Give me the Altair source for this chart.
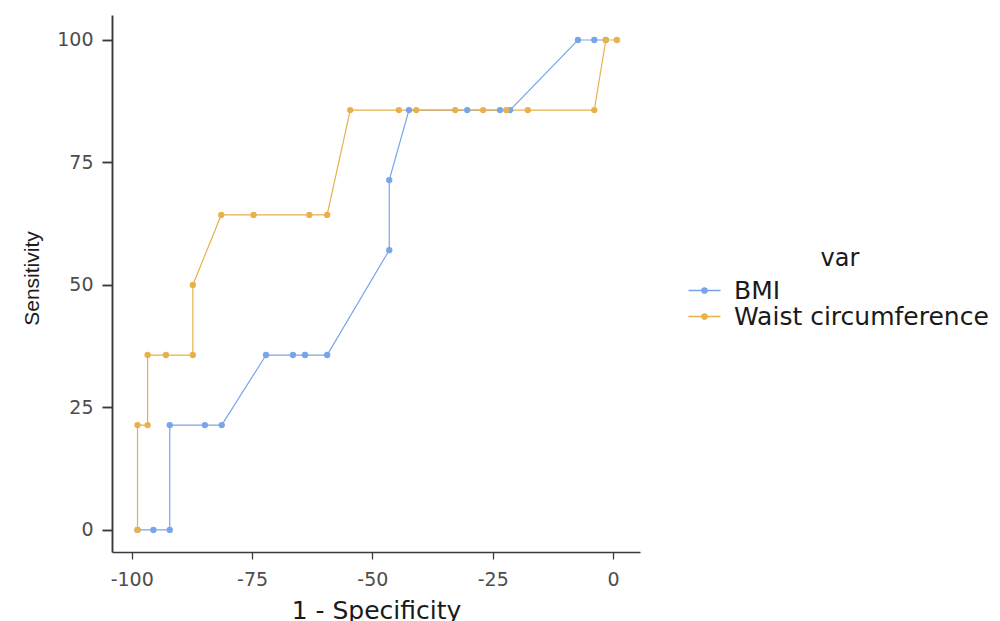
import altair as alt
import pandas as pd

series_names = ["BMI", "Waist circumference"]
series_colors = ["#78a5ea", "#e8b14c"]

bmi_fpr = [-98.8, -95.5, -92.1, -92.1, -84.8, -81.3, -72.1, -66.5, -64.0, -59.4,
           -46.5, -46.5, -42.4, -30.3, -23.5, -21.4, -7.3, -3.9, -1.5]
bmi_sens = [0, 0, 0, 21.4, 21.4, 21.4, 35.7, 35.7, 35.7, 35.7,
            57.1, 71.4, 85.7, 85.7, 85.7, 85.7, 100, 100, 100]

waist_fpr = [-98.8, -98.8, -96.7, -96.7, -92.9, -87.3, -87.3, -81.4, -74.7, -63.1,
             -59.4, -54.6, -44.5, -40.9, -32.8, -27.0, -22.2, -17.7, -3.9, -1.5, 0.8]
waist_sens = [0, 21.4, 21.4, 35.7, 35.7, 35.7, 50, 64.3, 64.3, 64.3,
              64.3, 85.7, 85.7, 85.7, 85.7, 85.7, 85.7, 85.7, 85.7, 100, 100]

x_ticks = [-100, -75, -50, -25, 0]
y_ticks = [0, 25, 50, 75, 100]

rows = []
for i, (x, y) in enumerate(zip(bmi_fpr, bmi_sens)):
    rows.append({"var": series_names[0], "fpr": x, "sens": y, "idx": i})
for i, (x, y) in enumerate(zip(waist_fpr, waist_sens)):
    rows.append({"var": series_names[1], "fpr": x, "sens": y, "idx": i})
df = pd.DataFrame(rows)

FONT = "DejaVu Sans"

legend_path = ("M-2,0L2,0"
               "M-0.34,0A0.34,0.34,0,1,1,0.34,0A0.34,0.34,0,1,1,-0.34,0"
               "M-0.17,0A0.17,0.17,0,1,1,0.17,0A0.17,0.17,0,1,1,-0.17,0")

x_enc = alt.X("fpr:Q",
              scale=alt.Scale(domain=[-104.1, 5.6], nice=False, zero=False),
              axis=alt.Axis(values=x_ticks, title="1 - Specificity", grid=False,
                            labelExpr="toString(datum.value)",
                            tickSize=7, labelPadding=11, domainWidth=1.3, tickWidth=1.3,
                            domainColor="#3a3a3a", tickColor="#3a3a3a",
                            labelColor="#4d4d4d", labelFontSize=19, labelFont=FONT,
                            titleFont=FONT, titleFontSize=25, titleFontWeight="normal",
                            titleColor="#1a1a1a", titleBaseline="alphabetic", titleY=66))
y_enc = alt.Y("sens:Q",
              scale=alt.Scale(domain=[-4.5, 105.1], nice=False, zero=False),
              axis=alt.Axis(values=y_ticks, title="Sensitivity", grid=False,
                            labelExpr="toString(datum.value)",
                            tickSize=10, labelPadding=9, domainWidth=1.9, tickWidth=1.9,
                            domainColor="#3a3a3a", tickColor="#3a3a3a",
                            labelColor="#4d4d4d", labelFontSize=19, labelFont=FONT,
                            titleFont="Liberation Sans", titleFontSize=21,
                            titleFontWeight="normal", titleColor="#1a1a1a",
                            titleX=-70, titleY=263))
color_enc = alt.Color("var:N",
                      scale=alt.Scale(domain=series_names, range=series_colors),
                      legend=alt.Legend(orient="none", legendX=580, legendY=232,
                                        title="var", titleFont=FONT, titleFontSize=24,
                                        titleFontWeight="normal", titleColor="#1a1a1a",
                                        titleAnchor="middle", titlePadding=7,
                                        labelFont=FONT, labelFontSize=25, labelColor="#1a1a1a",
                                        labelLimit=500,
                                        symbolType=legend_path, symbolSize=256,
                                        symbolStrokeWidth=1.3, labelOffset=17,
                                        rowPadding=-3))

base = alt.Chart(df).encode(x=x_enc, y=y_enc, color=color_enc)
lines = base.mark_line(strokeWidth=1.2).encode(order="idx:Q")
points = base.mark_circle(size=40, opacity=1)

chart = alt.layer(lines, points).properties(
    width=528, height=537,
    autosize=alt.AutoSizeParams(type="none"),
    padding={"left": 104, "top": 7, "right": 352, "bottom": 69},
    background="white",
).configure_view(stroke=None)

chart.save("out.html", embed_options={"renderer": "svg", "actions": False})
